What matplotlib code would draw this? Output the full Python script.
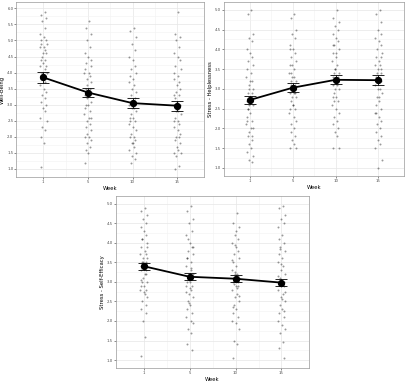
import matplotlib.pyplot as plt
import numpy as np

weeks = ["1", "5", "10", "15"]

# means and error bar half-widths
wb_mean = [3.85, 3.38, 3.05, 2.97]
wb_err = [0.17, 0.15, 0.15, 0.16]
sh_mean = [2.72, 3.03, 3.23, 3.22]
sh_err = [0.11, 0.11, 0.11, 0.12]
se_mean = [3.40, 3.13, 3.08, 2.98]
se_err = [0.09, 0.09, 0.09, 0.09]

# raw scores (estimated), one list per week
wb_raw = [
    [5.9, 5.8, 5.7, 5.6, 5.4, 5.2, 5.1, 5.0, 5.0, 4.9, 4.9, 4.8, 4.8, 4.7, 4.6, 4.6, 4.5, 4.4, 4.4, 4.3,
     4.2, 4.2, 4.1, 4.0, 4.0, 3.9, 3.9, 3.8, 3.7, 3.6, 3.5, 3.4, 3.3, 3.2, 3.1, 3.0, 2.9, 2.8, 2.6, 2.5,
     2.3, 2.2, 2.0, 1.8, 1.05],
    [5.6, 5.4, 5.2, 5.0, 4.8, 4.6, 4.5, 4.4, 4.3, 4.2, 4.1, 4.0, 4.0, 3.9, 3.8, 3.7, 3.6, 3.5, 3.5, 3.4,
     3.4, 3.3, 3.3, 3.2, 3.1, 3.0, 3.0, 2.9, 2.8, 2.7, 2.6, 2.6, 2.5, 2.4, 2.3, 2.2, 2.1, 2.0, 2.0, 1.9,
     1.8, 1.7, 1.6, 1.5, 1.2],
    [5.4, 5.3, 5.1, 4.9, 4.7, 4.5, 4.4, 4.2, 4.1, 4.0, 3.9, 3.8, 3.7, 3.6, 3.5, 3.4, 3.3, 3.2, 3.1, 3.1,
     3.0, 3.0, 2.9, 2.9, 2.8, 2.7, 2.6, 2.5, 2.5, 2.4, 2.3, 2.2, 2.1, 2.0, 2.0, 1.9, 1.8, 1.7, 1.6, 1.5,
     1.4, 1.3, 1.2, 1.8, 2.6],
    [5.9, 5.2, 5.1, 5.0, 4.8, 4.6, 4.5, 4.4, 4.2, 4.1, 4.0, 3.9, 3.8, 3.7, 3.6, 3.5, 3.4, 3.3, 3.2, 3.1,
     3.0, 3.0, 2.9, 2.8, 2.7, 2.6, 2.5, 2.5, 2.4, 2.3, 2.2, 2.1, 2.0, 2.0, 1.9, 1.8, 1.7, 1.6, 1.5, 1.5,
     1.4, 1.1, 1.0, 2.8, 3.3],
]
sh_raw = [
    [5.0, 4.9, 4.4, 4.3, 4.2, 4.0, 3.9, 3.8, 3.7, 3.6, 3.5, 3.4, 3.3, 3.2, 3.1, 3.0, 3.0, 2.9, 2.9, 2.8,
     2.8, 2.7, 2.7, 2.6, 2.6, 2.5, 2.4, 2.3, 2.2, 2.1, 2.0, 2.0, 1.9, 1.8, 1.8, 1.7, 1.6, 1.5, 1.4, 1.3,
     1.2, 1.15, 2.5, 3.2, 2.2],
    [4.9, 4.8, 4.5, 4.4, 4.3, 4.1, 4.0, 3.9, 3.8, 3.7, 3.6, 3.5, 3.4, 3.3, 3.3, 3.2, 3.2, 3.1, 3.1, 3.0,
     3.0, 2.9, 2.9, 2.8, 2.8, 2.7, 2.6, 2.5, 2.5, 2.4, 2.3, 2.2, 2.1, 2.0, 1.9, 1.8, 1.7, 1.6, 1.5, 1.5,
     3.6, 2.9, 3.4, 2.6, 4.0],
    [5.0, 4.8, 4.7, 4.6, 4.5, 4.4, 4.3, 4.2, 4.1, 4.0, 3.9, 3.8, 3.7, 3.6, 3.5, 3.4, 3.4, 3.3, 3.3, 3.2,
     3.2, 3.1, 3.1, 3.0, 3.0, 2.9, 2.8, 2.8, 2.7, 2.6, 2.5, 2.4, 2.3, 2.2, 2.1, 2.0, 1.9, 1.8, 1.5, 1.5,
     3.5, 3.2, 2.7, 3.9, 4.1],
    [5.0, 4.9, 4.7, 4.5, 4.4, 4.3, 4.2, 4.1, 4.0, 3.9, 3.8, 3.7, 3.6, 3.6, 3.5, 3.5, 3.4, 3.4, 3.3, 3.3,
     3.2, 3.1, 3.0, 3.0, 2.9, 2.8, 2.7, 2.6, 2.5, 2.4, 2.3, 2.2, 2.1, 2.0, 1.9, 1.8, 1.7, 1.6, 1.5, 1.2,
     1.0, 3.8, 3.2, 2.8, 2.4],
]
se_raw = [
    [4.9, 4.8, 4.7, 4.6, 4.5, 4.4, 4.3, 4.2, 4.1, 4.0, 3.9, 3.8, 3.7, 3.7, 3.6, 3.6, 3.5, 3.5, 3.4, 3.4,
     3.3, 3.3, 3.2, 3.1, 3.0, 3.0, 2.9, 2.9, 2.8, 2.8, 2.7, 2.6, 2.5, 2.4, 2.3, 2.2, 2.0, 1.6, 1.1, 3.9,
     3.5, 3.2, 4.1, 2.75, 3.05],
    [4.95, 4.8, 4.6, 4.5, 4.3, 4.2, 4.0, 3.9, 3.8, 3.7, 3.6, 3.5, 3.4, 3.3, 3.2, 3.2, 3.1, 3.1, 3.0, 3.0,
     2.9, 2.9, 2.8, 2.7, 2.6, 2.5, 2.4, 2.3, 2.2, 2.1, 2.0, 1.95, 1.8, 1.7, 1.4, 1.25, 3.05, 3.35, 2.75,
     3.9, 2.45, 3.15, 4.1, 2.85, 3.6],
    [4.75, 4.5, 4.4, 4.2, 4.1, 4.0, 3.9, 3.8, 3.7, 3.6, 3.5, 3.4, 3.3, 3.2, 3.2, 3.1, 3.1, 3.0, 3.0, 2.9,
     2.9, 2.8, 2.7, 2.6, 2.5, 2.4, 2.3, 2.2, 2.1, 2.0, 1.95, 1.8, 1.5, 1.4, 1.05, 3.05, 3.25, 2.85, 3.55,
     2.65, 3.95, 3.15, 2.95, 4.3, 2.35],
    [4.95, 4.9, 4.7, 4.6, 4.5, 4.4, 4.2, 4.0, 3.9, 3.8, 3.7, 3.6, 3.5, 3.4, 3.3, 3.2, 3.1, 3.0, 3.0, 2.9,
     2.9, 2.8, 2.7, 2.6, 2.5, 2.4, 2.3, 2.2, 2.1, 2.0, 1.9, 1.8, 1.7, 1.45, 1.3, 1.05, 3.05, 2.95, 3.15,
     2.75, 3.45, 2.25, 3.85, 2.55, 4.1],
]
# horizontal jitter used for the raw points
jitter = [0.03, -0.05, 0.07, -0.02, 0.05, -0.07, 0.01, 0.06, -0.04, 0.08, -0.06, 0.02, -0.08, 0.04, -0.01,
          0.07, -0.03, 0.05, -0.05, 0.00, 0.06, -0.07, 0.03, -0.02, 0.08, -0.04, 0.01, -0.06, 0.05, -0.08,
          0.02, 0.07, -0.03, 0.04, -0.05, 0.06, -0.01, 0.03, -0.07, 0.08, -0.02, 0.05, -0.04, 0.01, -0.06]


def panel(ax, raw, mean, err, ylab, ylim, yticks):
    x = np.arange(len(weeks))
    for i, vals in enumerate(raw):
        ax.scatter(x[i] + np.array(jitter[:len(vals)]), vals, s=2, color="black",
                   alpha=0.4, linewidths=0, zorder=2)
    ax.plot(x, mean, color="black", lw=1.3, zorder=3)
    ax.errorbar(x, mean, yerr=err, fmt="none", ecolor="black", elinewidth=0.6,
                capsize=4, capthick=0.6, zorder=3)
    ax.scatter(x, mean, s=18, color="black", zorder=4)
    ax.set_xlim(-0.6, 3.6)
    ax.set_ylim(*ylim)
    ax.set_xticks(x)
    ax.set_xticklabels(weeks)
    ax.set_yticks(yticks)
    ax.set_yticklabels([f"{t:.1f}" for t in yticks])
    ax.set_xticks(x[:-1] + 0.5, minor=True)
    ax.set_yticks(np.array(yticks[:-1]) + 0.25, minor=True)
    ax.grid(True, which="major", color="#e6e6e6", lw=0.5)
    ax.grid(True, which="minor", color="#f2f2f2", lw=0.4)
    ax.set_axisbelow(True)
    ax.tick_params(which="major", labelsize=2.8, length=1.2, width=0.4, color="#333333",
                   pad=1, labelcolor="#4d4d4d")
    ax.tick_params(which="minor", length=0)
    for s in ax.spines.values():
        s.set_color("#999999")
        s.set_linewidth(0.5)
    ax.set_xlabel("Week", fontsize=3.8, labelpad=1.5)
    ax.set_ylabel(ylab, fontsize=3.8, labelpad=1.5)


fig = plt.figure(figsize=(4.12, 3.84), dpi=100)
ax1 = fig.add_axes([0.040, 0.539, 0.455, 0.456])
ax2 = fig.add_axes([0.544, 0.542, 0.437, 0.453])
ax3 = fig.add_axes([0.282, 0.042, 0.468, 0.448])

panel(ax1, wb_raw, wb_mean, wb_err, "Well-Being", (0.75, 6.2),
      [1.0, 1.5, 2.0, 2.5, 3.0, 3.5, 4.0, 4.5, 5.0, 5.5, 6.0])
panel(ax2, sh_raw, sh_mean, sh_err, "Stress - Helplessness", (0.8, 5.2),
      [1.0, 1.5, 2.0, 2.5, 3.0, 3.5, 4.0, 4.5, 5.0])
panel(ax3, se_raw, se_mean, se_err, "Stress - Self-Efficacy", (0.8, 5.2),
      [1.0, 1.5, 2.0, 2.5, 3.0, 3.5, 4.0, 4.5, 5.0])

fig.savefig("out.png", dpi=100)
